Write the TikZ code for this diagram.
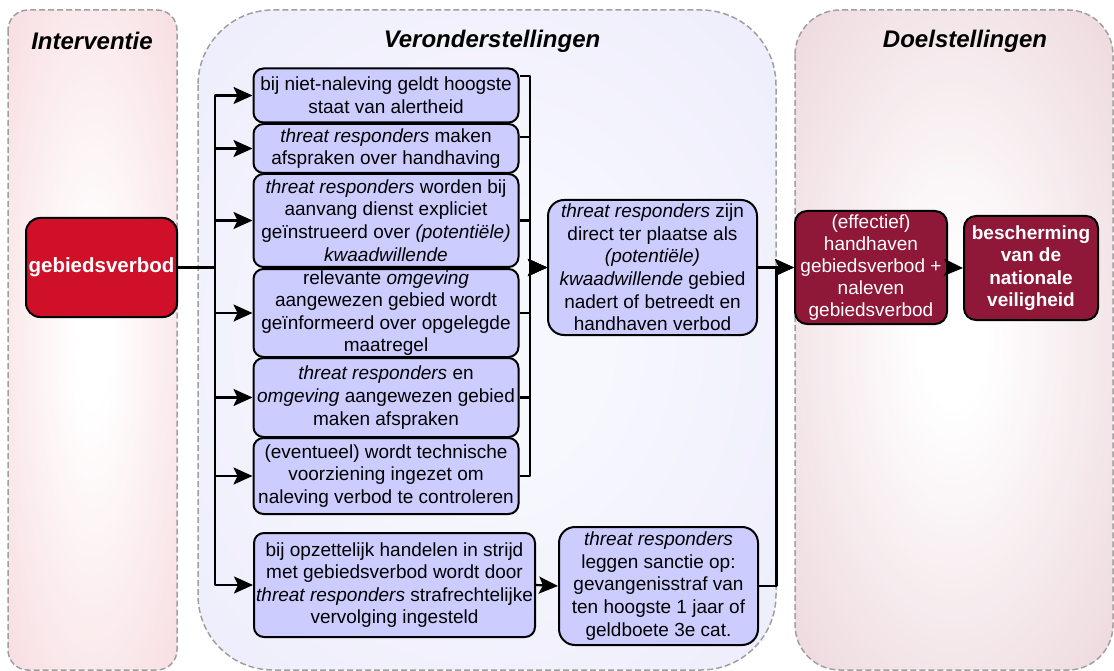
\documentclass[tikz,border=0pt]{standalone}
\usepackage{fontspec}
\setmainfont{Liberation Sans}
\usetikzlibrary{arrows.meta}
\definecolor{intout}{RGB}{245,210,215}
\definecolor{verout}{RGB}{232,231,250}
\definecolor{verin}{RGB}{247,247,254}
\definecolor{doelout}{RGB}{231,203,210}
\definecolor{boxfill}{RGB}{204,204,255}
\definecolor{redfill}{RGB}{207,16,40}
\definecolor{dmaroon}{RGB}{143,24,56}
\definecolor{dashgray}{RGB}{160,160,160}
\pgfdeclareradialshading{intshade}{\pgfpoint{0bp}{0bp}}{color(0bp)=(white); color(5bp)=(white); color(46bp)=(intout); color(100bp)=(intout)}
\pgfdeclareradialshading{vershade}{\pgfpoint{0bp}{0bp}}{color(0bp)=(verin); color(10bp)=(verin); color(50bp)=(verout); color(100bp)=(verout)}
\pgfdeclareradialshading{doelshade}{\pgfpoint{0bp}{0bp}}{color(0bp)=(white); color(5bp)=(white); color(46bp)=(doelout); color(100bp)=(doelout)}
\begin{document}
\begin{tikzpicture}[x=1pt,y=-1pt,line join=round,
  panel/.style={draw=dashgray, line width=1.5pt, dash pattern=on 6pt off 3pt},
  hdr/.style={font=\fontsize{24}{28}\selectfont\bfseries\itshape, inner sep=0pt},
  box/.style={draw=black, line width=2pt, fill=boxfill, rounded corners=10pt, align=center, inner sep=0pt, font=\fontsize{19}{22.6}\selectfont},
  dbox/.style={draw=black, line width=2pt, fill=dmaroon, text=white, rounded corners=12pt, align=center, inner sep=0pt, font=\fontsize{19}{21.8}\selectfont},
  arr/.style={line width=2.2pt, -{Stealth[length=19pt,width=17pt,inset=4pt]}}]
\useasboundingbox (0,0) rectangle (1114,671);
% panels
\shadedraw[panel, shading=intshade, rounded corners=20pt] (8,10) rectangle (177,670);
\shadedraw[panel, shading=vershade, rounded corners=75pt] (198,10) rectangle (776,670);
\shadedraw[panel, shading=doelshade, rounded corners=45pt] (795,10) rectangle (1113,670);
% headers
\node[hdr] (hint) at (92,41) {Interventie};
\node[hdr] (hver) at (492,41) {Veronderstellingen};
\node[hdr] (hdoel) at (965,41) {Doelstellingen};
% intervention
\node[draw=black, line width=2pt, fill=redfill, text=white, rounded corners=14pt, minimum width=151pt, minimum height=99pt, inner sep=0pt, font=\fontsize{20.5}{24}\selectfont\bfseries] (red) at (101.5,267.5) {gebiedsverbod};
% assumption boxes
\node[box, minimum width=265pt, minimum height=54pt] (b1) at (386,95.5) {bij niet-naleving geldt hoogste\\staat van alertheid};
\node[box, minimum width=265pt, minimum height=49pt] (b2) at (386,148.5) {\textit{threat responders} maken\\afspraken over handhaving};
\node[box, minimum width=265pt, minimum height=93pt] (b3) at (386,220.5) {\textit{threat responders} worden bij\\aanvang dienst expliciet\\geïnstrueerd over \textit{(potentiële)}\\\textit{kwaadwillende}};
\node[box, minimum width=265pt, minimum height=88pt] (b4) at (386,313) {relevante \textit{omgeving}\\aangewezen gebied wordt\\geïnformeerd over opgelegde\\maatregel};
\node[box, minimum width=265pt, minimum height=79pt] (b5) at (386,397.5) {\textit{threat responders} en\\\textit{omgeving} aangewezen gebied\\maken afspraken};
\node[box, minimum width=265pt, minimum height=76pt] (b6) at (386,476) {(eventueel) wordt technische\\voorziening ingezet om\\naleving verbod te controleren};
\node[box, minimum width=281pt, minimum height=104pt] (b7) at (394.5,585) {bij opzettelijk handelen in strijd\\met gebiedsverbod wordt door\\\textit{threat responders} strafrechtelijke\\vervolging ingesteld};
\node[box, minimum width=209pt, minimum height=135pt, rounded corners=16pt] (mid) at (652.5,267.5) {\textit{threat responders} zijn\\direct ter plaatse als\\\textit{(potentiële)}\\\textit{kwaadwillende} gebied\\nadert of betreedt en\\handhaven verbod};
\node[box, minimum width=199pt, minimum height=118pt, rounded corners=16pt] (sanc) at (658.5,586) {\textit{threat responders}\\leggen sanctie op:\\gevangenisstraf van\\ten hoogste 1 jaar of\\geldboete 3e cat.};
% goals
\node[dbox, minimum width=152pt, minimum height=113pt] (d1) at (871,267.5) {(effectief)\\handhaven\\gebiedsverbod +\\naleven\\gebiedsverbod};
\node[dbox, minimum width=134pt, minimum height=104pt, font=\fontsize{19}{22.5}\selectfont\bfseries] (d2) at (1031,268) {bescherming\\van de\\nationale\\veiligheid};
% connectors
\coordinate (trunk) at (215,267.5);
\foreach \b in {b1,b2,b3,b4,b5,b6,b7}
  \draw[arr] (red.east) -- (trunk) |- (\b.west);
\coordinate (bus) at (530,267.5);
\draw[arr] ([yshift=19.5pt]b1.east) -| (bus) -- (mid.west);
\draw[arr] ([yshift=11.5pt]b2.east) -| (bus) -- (mid.west);
\foreach \b in {b3,b4,b5,b6}
  \draw[arr] (\b.east) -| (bus) -- (mid.west);
\draw[arr] (mid.east) -- (d1.west);
\draw[arr] (b7.east) -- (sanc.west);
\coordinate (join) at (776.5,267.5);
\draw[arr] (sanc.east) -| (join) -- (d1.west);
\draw[arr] (d1.east) -- (d2.west);
\end{tikzpicture}
\end{document}
